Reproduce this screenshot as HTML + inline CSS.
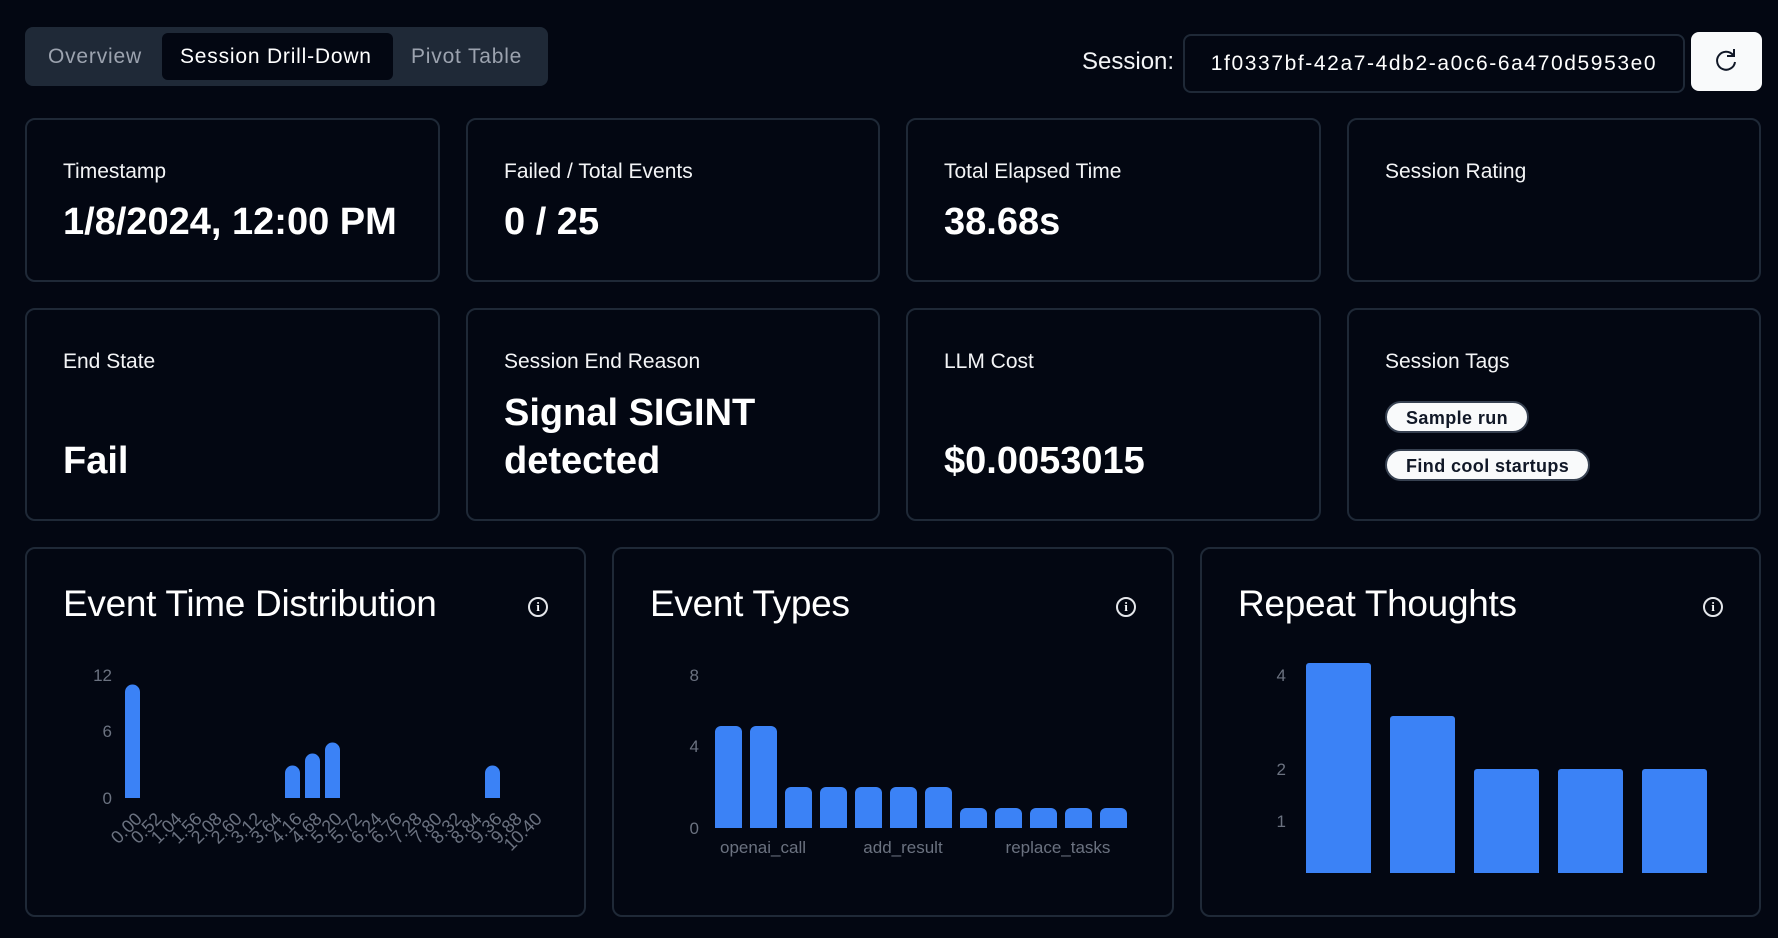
<!DOCTYPE html>
<html><head><meta charset="utf-8"><style>
*{margin:0;padding:0;box-sizing:border-box}
body{width:1778px;height:938px;background:#030712;font-family:"Liberation Sans",sans-serif;color:#f9fafb;position:relative;overflow:hidden}
.abs{position:absolute}
.card{position:absolute;border:2px solid #1f2937;border-radius:10px;background:#030712}
.lbl{position:absolute;left:36px;font-size:21px;color:#f3f4f6}
.val{position:absolute;left:36px;font-size:38px;font-weight:bold;color:#fff;line-height:48px}
.tag{position:absolute;left:36px;background:#f9fafb;color:#111827;font-weight:bold;font-size:18px;letter-spacing:0.4px;border-radius:16px;height:32px;line-height:30px;padding:0 19px;border:2px solid #374151}
.title{position:absolute;left:36px;top:34px;font-size:37px;color:#fff;letter-spacing:-0.3px}
.info{position:absolute;top:48px;width:20px;height:20px;border:2px solid #e5e7eb;border-radius:50%;font-size:13px;text-align:center;line-height:16px;font-family:"Liberation Serif",serif;font-weight:bold}
</style></head><body>
<div class="abs" style="left:25px;top:27px;width:523px;height:59px;background:#1f2937;border-radius:8px"></div>
<div class="abs" style="left:162px;top:33px;width:231px;height:47px;background:#030712;border-radius:6px"></div>
<div class="abs" style="left:48px;top:45px;font-size:21px;letter-spacing:0.8px;color:#9ca3af">Overview</div>
<div class="abs" style="left:180px;top:45px;font-size:21px;letter-spacing:0.8px;color:#fff">Session Drill-Down</div>
<div class="abs" style="left:411px;top:45px;font-size:21px;letter-spacing:0.8px;color:#9ca3af">Pivot Table</div>
<div class="abs" style="left:1082px;top:48px;font-size:24px;color:#f3f4f6">Session:</div>
<div class="abs" style="left:1183px;top:34px;width:502px;height:59px;border:2px solid #1f2937;border-radius:8px;font-size:21px;letter-spacing:1.6px;text-align:center;line-height:55px;color:#fff">1f0337bf-42a7-4db2-a0c6-6a470d5953e0</div>
<div class="abs" style="left:1691px;top:32px;width:71px;height:59px;background:#f9fafb;border-radius:8px">
<svg width="71" height="59"><path d="M42 23 A9 9 0 1 0 44 30" fill="none" stroke="#111827" stroke-width="2"/><path d="M43 17 L43 24 L36 24" fill="none" stroke="#111827" stroke-width="2"/></svg></div>

<div class="card" style="left:25px;top:118px;width:415px;height:164px"><div class="lbl" style="top:40px">Timestamp</div><div class="val" style="top:78px">1/8/2024, 12:00 PM</div></div>
<div class="card" style="left:466px;top:118px;width:414px;height:164px"><div class="lbl" style="top:40px">Failed / Total Events</div><div class="val" style="top:78px">0 / 25</div></div>
<div class="card" style="left:906px;top:118px;width:415px;height:164px"><div class="lbl" style="top:40px">Total Elapsed Time</div><div class="val" style="top:78px">38.68s</div></div>
<div class="card" style="left:1347px;top:118px;width:414px;height:164px"><div class="lbl" style="top:40px">Session Rating</div></div>

<div class="card" style="left:25px;top:308px;width:415px;height:213px"><div class="lbl" style="top:40px">End State</div><div class="val" style="top:127px">Fail</div></div>
<div class="card" style="left:466px;top:308px;width:414px;height:213px"><div class="lbl" style="top:40px">Session End Reason</div><div class="val" style="top:79px">Signal SIGINT<br>detected</div></div>
<div class="card" style="left:906px;top:308px;width:415px;height:213px"><div class="lbl" style="top:40px">LLM Cost</div><div class="val" style="top:127px">$0.0053015</div></div>
<div class="card" style="left:1347px;top:308px;width:414px;height:213px"><div class="lbl" style="top:40px">Session Tags</div>
<div class="tag" style="top:91px">Sample run</div><div class="tag" style="top:139px">Find cool startups</div></div>

<div class="card" style="left:25px;top:547px;width:561px;height:370px"><div class="title">Event Time Distribution</div><div class="info" style="left:501px">i</div></div>
<div class="card" style="left:612px;top:547px;width:562px;height:370px"><div class="title">Event Types</div><div class="info" style="left:502px">i</div></div>
<div class="card" style="left:1200px;top:547px;width:561px;height:370px"><div class="title">Repeat Thoughts</div><div class="info" style="left:501px">i</div></div>

<svg class="abs" style="left:0;top:0" width="1778" height="938" font-family="Liberation Sans, sans-serif" font-size="17" fill="#6b7280">
<g text-anchor="end"><text x="112" y="681">12</text><text x="112" y="737">6</text><text x="112" y="804">0</text></g>
<g fill="#3b82f6">
<path d="M125 798V692a7.5 7.5 0 0 1 15 0V798z"/>
<path d="M285 798V773a7.5 7.5 0 0 1 15 0V798z"/>
<path d="M305 798V761a7.5 7.5 0 0 1 15 0V798z"/>
<path d="M325 798V750a7.5 7.5 0 0 1 15 0V798z"/>
<path d="M485 798V773a7.5 7.5 0 0 1 15 0V798z"/>
</g>
<g text-anchor="end" font-size="18">
<text transform="translate(143,820) rotate(-45)">0.00</text>
<text transform="translate(163,820) rotate(-45)">0.52</text>
<text transform="translate(183,820) rotate(-45)">1.04</text>
<text transform="translate(203,820) rotate(-45)">1.56</text>
<text transform="translate(223,820) rotate(-45)">2.08</text>
<text transform="translate(243,820) rotate(-45)">2.60</text>
<text transform="translate(263,820) rotate(-45)">3.12</text>
<text transform="translate(283,820) rotate(-45)">3.64</text>
<text transform="translate(303,820) rotate(-45)">4.16</text>
<text transform="translate(323,820) rotate(-45)">4.68</text>
<text transform="translate(343,820) rotate(-45)">5.20</text>
<text transform="translate(363,820) rotate(-45)">5.72</text>
<text transform="translate(383,820) rotate(-45)">6.24</text>
<text transform="translate(403,820) rotate(-45)">6.76</text>
<text transform="translate(423,820) rotate(-45)">7.28</text>
<text transform="translate(443,820) rotate(-45)">7.80</text>
<text transform="translate(463,820) rotate(-45)">8.32</text>
<text transform="translate(483,820) rotate(-45)">8.84</text>
<text transform="translate(503,820) rotate(-45)">9.36</text>
<text transform="translate(523,820) rotate(-45)">9.88</text>
<text transform="translate(543,820) rotate(-45)">10.40</text>
</g>
<g text-anchor="end"><text x="699" y="681">8</text><text x="699" y="752">4</text><text x="699" y="834">0</text></g>
<g fill="#3b82f6">
<path d="M715 828V732a6 6 0 0 1 6-6h15a6 6 0 0 1 6 6V828z"/>
<path d="M750 828V732a6 6 0 0 1 6-6h15a6 6 0 0 1 6 6V828z"/>
<path d="M785 828V793a6 6 0 0 1 6-6h15a6 6 0 0 1 6 6V828z"/>
<path d="M820 828V793a6 6 0 0 1 6-6h15a6 6 0 0 1 6 6V828z"/>
<path d="M855 828V793a6 6 0 0 1 6-6h15a6 6 0 0 1 6 6V828z"/>
<path d="M890 828V793a6 6 0 0 1 6-6h15a6 6 0 0 1 6 6V828z"/>
<path d="M925 828V793a6 6 0 0 1 6-6h15a6 6 0 0 1 6 6V828z"/>
<path d="M960 828V814a6 6 0 0 1 6-6h15a6 6 0 0 1 6 6V828z"/>
<path d="M995 828V814a6 6 0 0 1 6-6h15a6 6 0 0 1 6 6V828z"/>
<path d="M1030 828V814a6 6 0 0 1 6-6h15a6 6 0 0 1 6 6V828z"/>
<path d="M1065 828V814a6 6 0 0 1 6-6h15a6 6 0 0 1 6 6V828z"/>
<path d="M1100 828V814a6 6 0 0 1 6-6h15a6 6 0 0 1 6 6V828z"/>
</g>
<g text-anchor="middle"><text x="763" y="853">openai_call</text><text x="903" y="853">add_result</text><text x="1058" y="853">replace_tasks</text></g>
<g text-anchor="end"><text x="1286" y="681">4</text><text x="1286" y="775">2</text><text x="1286" y="827">1</text></g>
<g fill="#3b82f6">
<path d="M1306 873V666a3 3 0 0 1 3-3h59a3 3 0 0 1 3 3V873z"/>
<path d="M1390 873V719a3 3 0 0 1 3-3h59a3 3 0 0 1 3 3V873z"/>
<path d="M1474 873V772a3 3 0 0 1 3-3h59a3 3 0 0 1 3 3V873z"/>
<path d="M1558 873V772a3 3 0 0 1 3-3h59a3 3 0 0 1 3 3V873z"/>
<path d="M1642 873V772a3 3 0 0 1 3-3h59a3 3 0 0 1 3 3V873z"/>
</g>
</svg>
</body></html>
